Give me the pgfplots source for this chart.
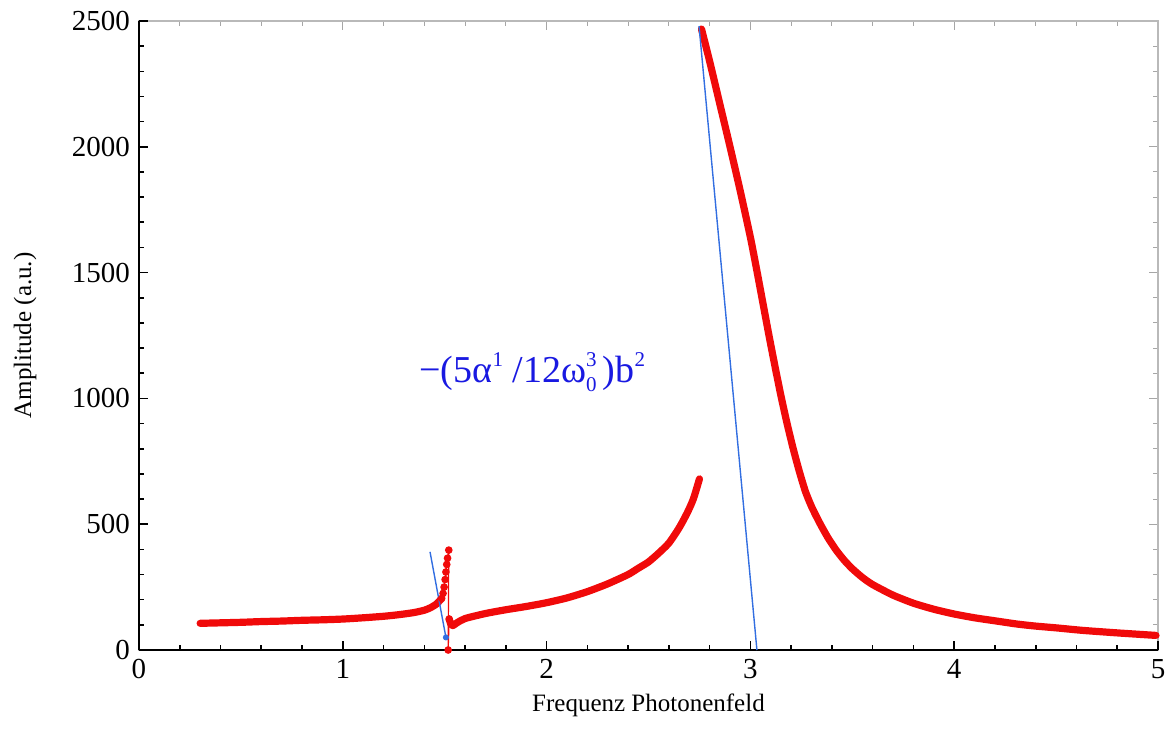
\documentclass[border=0pt]{standalone}
\usepackage{fontspec}
\setmainfont{Liberation Serif}
\usepackage{pgfplots}
\pgfplotsset{compat=1.18}
\definecolor{dred}{RGB}{240,10,10}
\definecolor{lblue}{RGB}{50,110,225}
\definecolor{tblue}{RGB}{25,25,225}
\newcommand{\sups}[1]{\raisebox{8pt}{\fontsize{10.5}{10.5}\selectfont #1}}
\newcommand{\subs}[1]{\raisebox{-4.6pt}{\fontsize{10.5}{10.5}\selectfont #1}}
\begin{document}
\begin{tikzpicture}
\pgfplotsset{
  common/.style={
    width=509.5pt, height=314.5pt, scale only axis,
    xmin=0, xmax=5, ymin=0, ymax=2500,
    xtick={0,1,2,3,4,5}, ytick={0,500,1000,1500,2000,2500},
    minor x tick num=4, minor y tick num=4,
    tick align=inside,
    major tick length=4.5pt, minor tick length=2.5pt,
    /pgf/number format/assume math mode=true,
    /pgf/number format/1000 sep={},
    tick label style={font=\fontsize{14.5}{16}\selectfont},
  }
}
% background frame (gray top/right)
\begin{axis}[common,
  axis line style={gray!55, line width=0.6pt},
  tick style={gray!70, line width=0.5pt},
  xticklabels={}, yticklabels={}]
\end{axis}
% foreground axis
\begin{axis}[common, name=ax,
  axis x line*=bottom, axis y line*=left,
  axis line style={black, line width=1.2pt, -},
  tick style={black, line width=0.8pt},
  xticklabel style={yshift=-1pt},
  yticklabel style={xshift=-1pt},
  every axis x label/.style={at={(axis description cs:0.5,0)}, anchor=center, yshift=-27.5pt, font=\fontsize{12.5}{14}\selectfont},
  every axis y label/.style={at={(axis description cs:0,0.5)}, anchor=center, xshift=-57pt, rotate=90, font=\fontsize{12.5}{14}\selectfont},
  xlabel={Frequenz Photonenfeld},
  ylabel={Amplitude (a.u.)},
  clip=false]
% low branch
\addplot[dred, line width=3.6pt, line cap=round, line join=round, smooth, tension=0.4] coordinates {
(0.30,106) (0.40,108) (0.50,110) (0.60,113) (0.70,115) (0.80,118) (0.90,120)
(1.00,123) (1.10,128) (1.20,134) (1.26,139) (1.30,143) (1.35,149) (1.40,158)
(1.43,168) (1.46,183) (1.485,205)};
% spike
\addplot[dred, line width=0.6pt, mark=*, mark size=1.6pt] coordinates {
(1.485,205) (1.492,225) (1.497,250) (1.502,280) (1.506,310) (1.510,340)
(1.514,365) (1.520,397) (1.517,0) (1.522,123)};
% rising branch
\addplot[dred, line width=3.6pt, line cap=round, line join=round, smooth, tension=0.4] coordinates {
(1.522,123) (1.53,103) (1.54,97) (1.56,108) (1.60,125) (1.70,145) (1.80,160)
(1.90,173) (2.00,188) (2.10,207) (2.20,232) (2.30,263) (2.40,300) (2.45,325)
(2.50,350) (2.55,385) (2.60,425) (2.65,485) (2.69,545) (2.72,600) (2.75,680)};
% high branch
\addplot[dred, line width=3.6pt, line cap=round, line join=round, smooth, tension=0.4] coordinates {
(2.76,2468) (2.80,2340) (2.85,2170) (2.90,2000) (2.95,1825) (3.00,1640)
(3.03,1515) (3.06,1385) (3.09,1255) (3.12,1130) (3.15,1010) (3.18,900)
(3.21,800) (3.24,710) (3.27,630) (3.30,570) (3.34,505) (3.38,447)
(3.42,398) (3.46,357) (3.50,323) (3.55,288) (3.60,260) (3.70,218)
(3.80,186) (3.90,162) (4.00,143) (4.10,128) (4.20,116) (4.31,103)
(4.40,95) (4.50,88) (4.63,78) (4.80,68) (4.99,58)};
% blue lines
\addplot[lblue, line width=0.7pt] coordinates {(1.428,390) (1.506,50)};
\addplot[lblue, only marks, mark=*, mark size=1.3pt] coordinates {(1.506,50)};
\addplot[lblue, line width=0.7pt] coordinates {(2.748,2480) (3.032,0)};
\node[text=tblue, font=\fontsize{19}{22}\selectfont] at (axis cs:1.93,1105)
  {−(5α\sups{1} /12ω\rlap{\sups{3}}\subs{0}\,)b\sups{2}};
\end{axis}
\pgfresetboundingbox
\useasboundingbox (-69.5pt,-44.5pt) rectangle (517pt,325pt);
\end{tikzpicture}
\end{document}
